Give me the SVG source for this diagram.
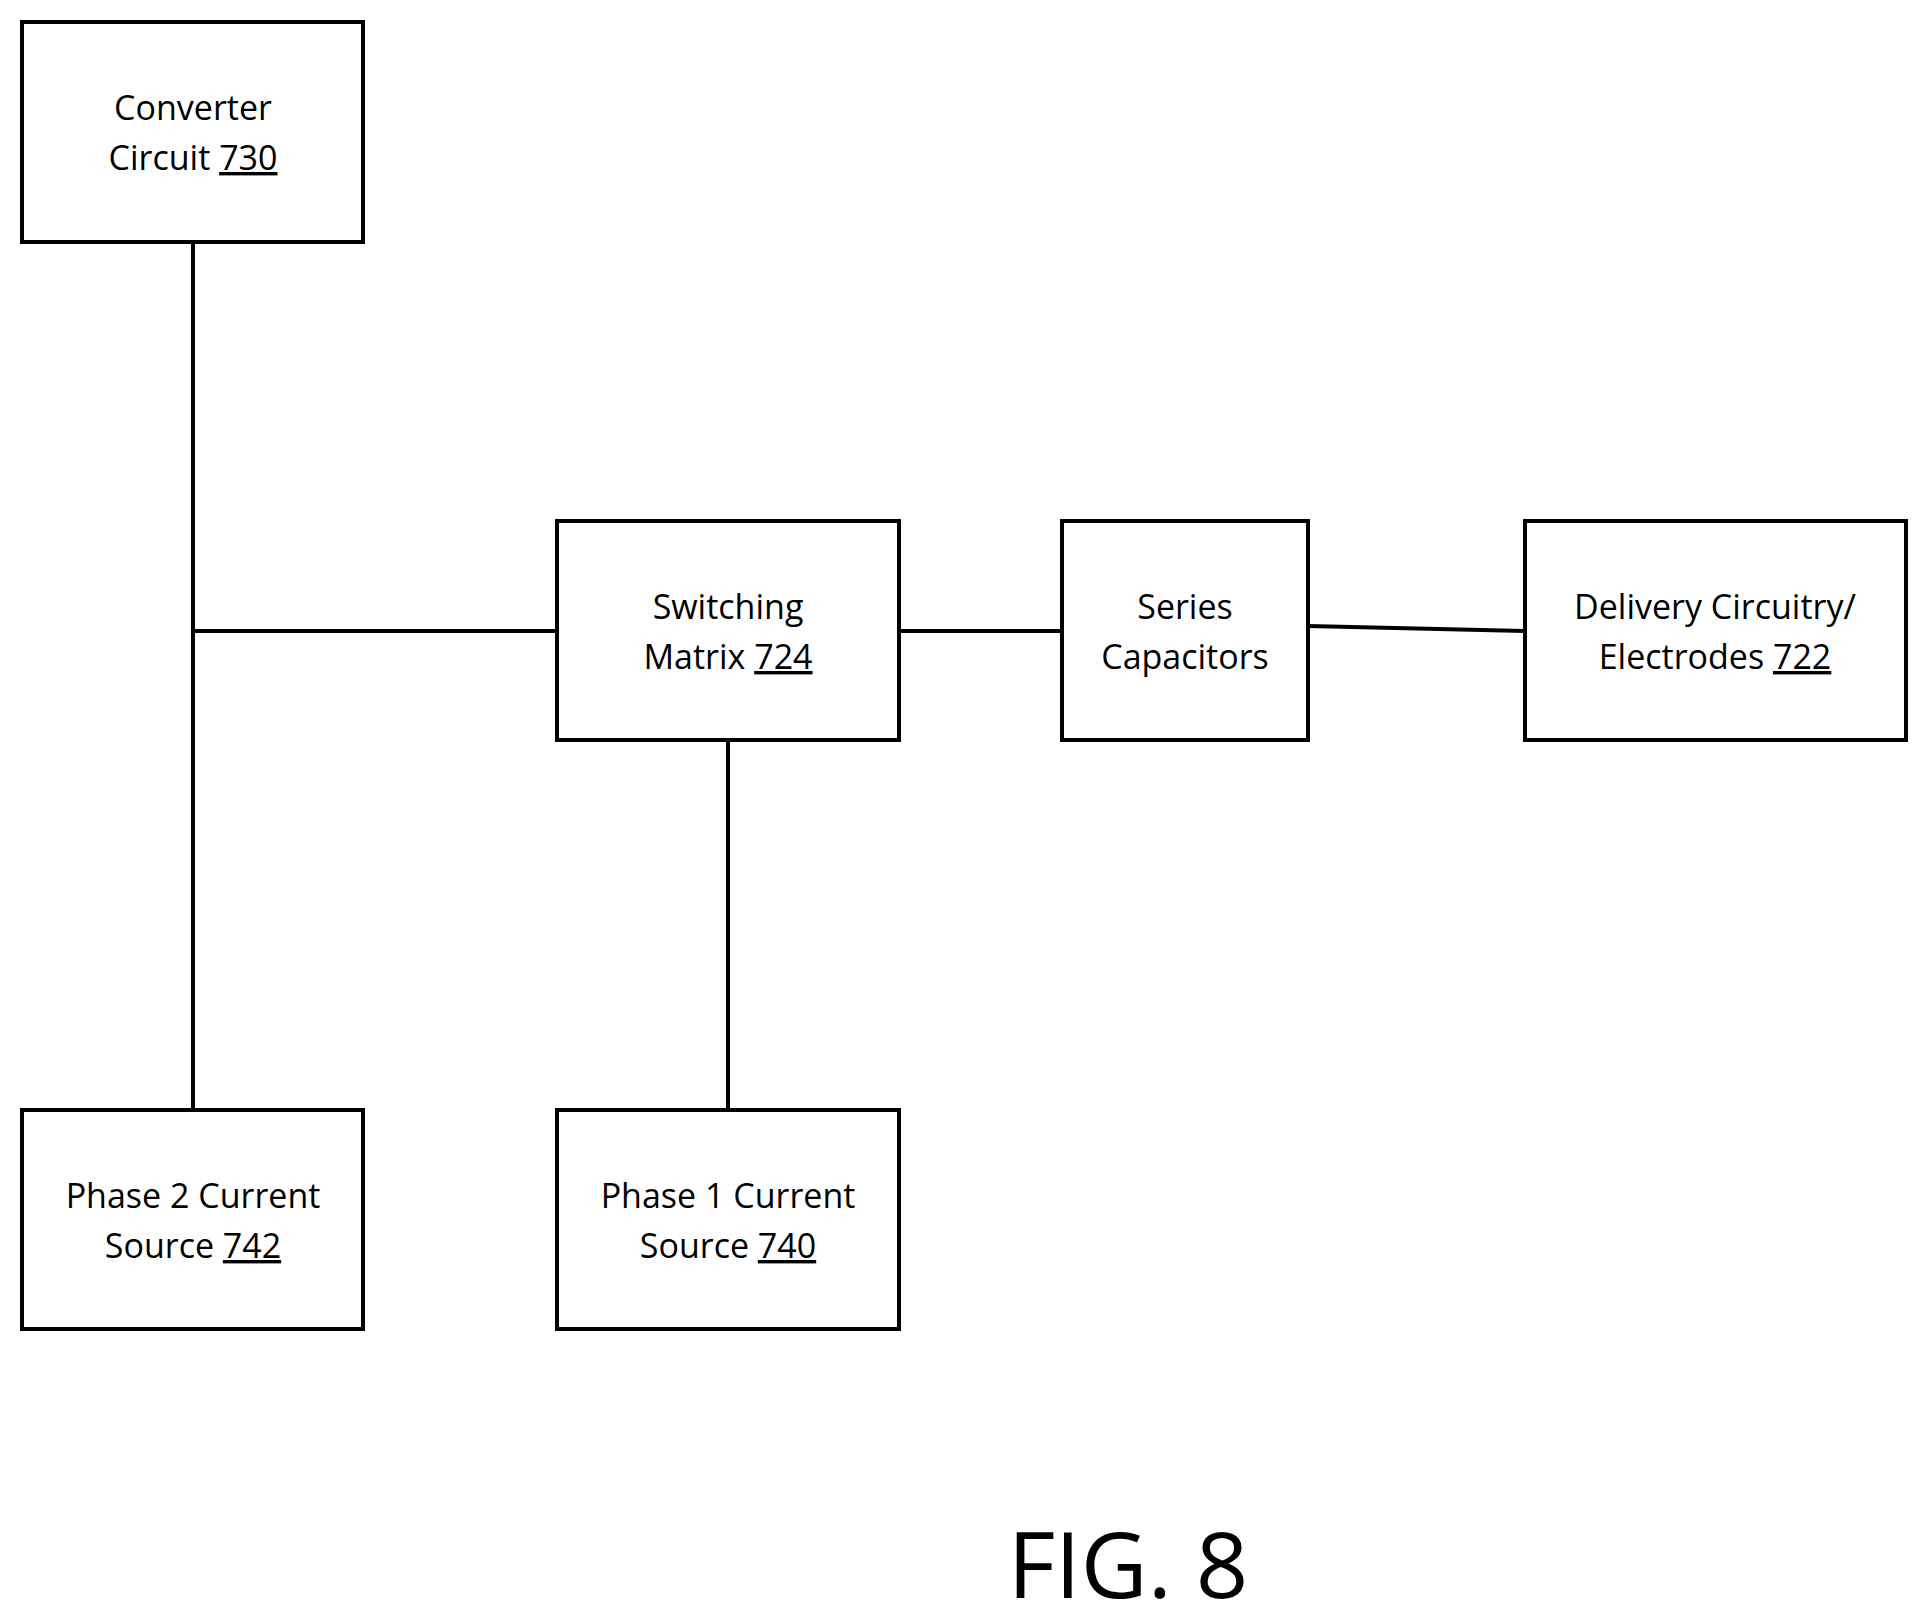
<svg xmlns="http://www.w3.org/2000/svg" width="1928" height="1623" viewBox="0 0 1928 1623">
<style>
rect{fill:#fff;stroke:#000;stroke-width:4}
line{stroke:#000;stroke-width:4}
text{font-family:"Open Sans","Liberation Sans",sans-serif;font-size:34px;text-anchor:middle;fill:#000}
.u{text-decoration:underline}
</style>
<rect x="0" y="0" width="1928" height="1623" style="stroke:none"/>
<g id="connectors">
<line x1="193" y1="242" x2="193" y2="1110"/>
<line x1="193" y1="631" x2="557" y2="631"/>
<line x1="899" y1="631" x2="1062" y2="631"/>
<line x1="1308" y1="626" x2="1525" y2="631"/>
<line x1="728" y1="740" x2="728" y2="1110"/>
</g>
<g id="converter"><rect x="22" y="22" width="341" height="220"/><text x="193" y="120">Converter</text><text x="193" y="170">Circuit <tspan class="u">730</tspan></text></g>
<g id="switching"><rect x="557" y="521" width="342" height="219"/><text x="728" y="619">Switching</text><text x="728" y="669">Matrix <tspan class="u">724</tspan></text></g>
<g id="series"><rect x="1062" y="521" width="246" height="219"/><text x="1185" y="619">Series</text><text x="1185" y="669">Capacitors</text></g>
<g id="delivery"><rect x="1525" y="521" width="381" height="219"/><text x="1715" y="619">Delivery Circuitry/</text><text x="1715" y="669">Electrodes <tspan class="u">722</tspan></text></g>
<g id="phase2"><rect x="22" y="1110" width="341" height="219"/><text x="193" y="1208">Phase 2 Current</text><text x="193" y="1258">Source <tspan class="u">742</tspan></text></g>
<g id="phase1"><rect x="557" y="1110" width="342" height="219"/><text x="728" y="1208">Phase 1 Current</text><text x="728" y="1258">Source <tspan class="u">740</tspan></text></g>
<text x="1128" y="1598" style="font-size:92px">FIG. 8</text>
</svg>
